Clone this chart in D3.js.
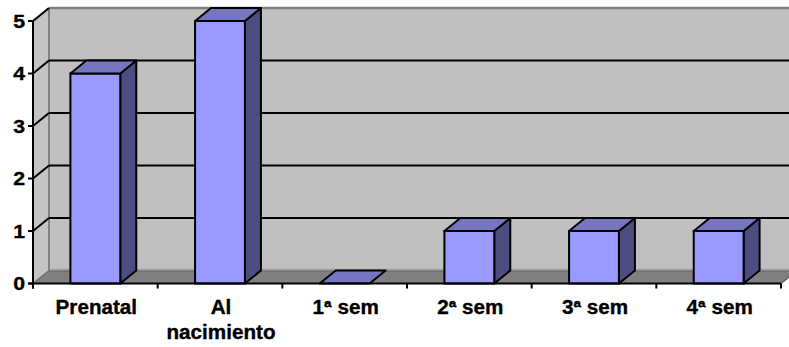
<!DOCTYPE html>
<html><head><meta charset="utf-8">
<script src="https://cdn.jsdelivr.net/npm/d3@7"></script>
<style>html,body{margin:0;padding:0;background:#fff;overflow:hidden}</style>
</head><body>
<svg id="c" width="789" height="347"></svg>
<script>
const categories = ["Prenatal", "Al nacimiento", "1ª sem", "2ª sem", "3ª sem", "4ª sem"];
const values = [4, 5, 0, 1, 1, 1];
const yTicks = [0, 1, 2, 3, 4, 5];

const svg = d3.select("#c");
const X0 = 33, X1 = 781, Y0 = 283.5, Y1 = 21;
const DX = 16, DY = -13;
const y = d3.scaleLinear().domain([0, 5]).range([Y0, Y1]);
const xb = d3.scaleBand().domain(categories).range([X0, X1]).paddingInner(0.6).paddingOuter(0.3);
const xc = d3.scaleBand().domain(categories).range([X0, X1]).padding(0);

const FRONT = "#9999FF", TOP = "#7575C0", SIDE = "#4D4D82";
const pts = a => a.map(p => p.join(",")).join(" ");

// back wall
svg.append("polygon").attr("points", pts([[X0+DX, Y1+DY],[X1+DX+20, Y1+DY],[X1+DX+20, Y0+DY],[X0+DX, Y0+DY]]))
  .attr("fill", "#C0C0C0");
// left wall
svg.append("polygon").attr("points", pts([[X0, Y1],[X0+DX, Y1+DY],[X0+DX, Y0+DY],[X0, Y0]]))
  .attr("fill", "#C4C4C4");
// wall edges
svg.append("line").attr("x1", X0+DX).attr("x2", X1+DX+20).attr("y1", Y1+DY).attr("y2", Y1+DY)
  .attr("stroke", "#808080").attr("stroke-width", 2.5);
svg.append("line").attr("x1", X0+DX).attr("x2", X0+DX).attr("y1", Y1+DY).attr("y2", Y0+DY)
  .attr("stroke", "#808080").attr("stroke-width", 2);
// floor
svg.append("polygon").attr("points", pts([[X0, Y0],[X1, Y0],[X1+DX, Y0+DY],[X0+DX, Y0+DY]]))
  .attr("fill", "#808080");
svg.append("line").attr("x1", X0+DX).attr("x2", X1+DX+20).attr("y1", Y0+DY-1).attr("y2", Y0+DY-1)
  .attr("stroke", "#A0A0A0").attr("stroke-width", 1.5);
svg.append("line").attr("x1", X0+DX).attr("x2", X1+DX+20).attr("y1", Y0+DY+0.5).attr("y2", Y0+DY+0.5)
  .attr("stroke", "#606060").attr("stroke-width", 1);
svg.append("line").attr("x1", X1).attr("y1", Y0).attr("x2", X1+DX).attr("y2", Y0+DY)
  .attr("stroke", "#606060").attr("stroke-width", 1.5);
svg.append("line").attr("x1", X0).attr("y1", Y0).attr("x2", X0+DX).attr("y2", Y0+DY)
  .attr("stroke", "#707070").attr("stroke-width", 1.5);

// gridlines
const grid = yTicks.filter(v => v > 0 && v < 5);
svg.selectAll("line.g").data(grid).join("line").attr("class", "g")
  .attr("x1", X0+DX).attr("x2", X1+DX+20).attr("y1", d => y(d)+DY).attr("y2", d => y(d)+DY)
  .attr("stroke", "#000").attr("stroke-width", 2);
svg.selectAll("line.gd").data(yTicks.filter(v => v > 0)).join("line").attr("class", "gd")
  .attr("x1", X0).attr("x2", X0+DX).attr("y1", d => y(d)).attr("y2", d => y(d)+DY)
  .attr("stroke", "#000").attr("stroke-width", 2);

// bars
const data = categories.map((c, i) => ({c, v: values[i]}));
const g = svg.selectAll("g.bar").data(data).join("g").attr("class", "bar");
const bw = xb.bandwidth();
g.each(function(d) {
  const s = d3.select(this);
  const xl = xb(d.c), xr = xl + bw, yt = y(d.v), yb = y(0);
  if (d.v > 0) {
    s.append("polygon").attr("points", pts([[xr, yt],[xr+DX, yt+DY],[xr+DX, yb+DY],[xr, yb]]))
      .attr("fill", SIDE).attr("stroke", "#000").attr("stroke-width", 2).attr("stroke-linejoin", "round");
    s.append("rect").attr("x", xl).attr("y", yt).attr("width", bw).attr("height", yb - yt)
      .attr("fill", FRONT).attr("stroke", "#000").attr("stroke-width", 2);
  }
  s.append("polygon").attr("points", pts([[xl, yt],[xr, yt],[xr+DX, yt+DY],[xl+DX, yt+DY]]))
    .attr("fill", TOP).attr("stroke", "#000").attr("stroke-width", 2).attr("stroke-linejoin", "round");
});

// axes
svg.append("line").attr("x1", X0).attr("x2", X0).attr("y1", Y1).attr("y2", Y0+5)
  .attr("stroke", "#000").attr("stroke-width", 2);
svg.append("line").attr("x1", X0-5).attr("x2", X1).attr("y1", Y0).attr("y2", Y0)
  .attr("stroke", "#000").attr("stroke-width", 2);
svg.selectAll("line.yt").data(yTicks).join("line").attr("class", "yt")
  .attr("x1", X0-5).attr("x2", X0).attr("y1", d => y(d)).attr("y2", d => y(d))
  .attr("stroke", "#000").attr("stroke-width", 2);
const bounds = categories.map(c => xc(c)).concat([X1]);
svg.selectAll("line.xt").data(bounds).join("line").attr("class", "xt")
  .attr("x1", d => d).attr("x2", d => d).attr("y1", Y0).attr("y2", Y0+5)
  .attr("stroke", "#000").attr("stroke-width", 2);

const font = "'Liberation Sans', Arial, sans-serif";
svg.selectAll("text.yl").data(yTicks).join("text").attr("class", "yl")
  .attr("transform", d => `translate(25,${y(d)+6.8}) scale(1.15,1)`)
  .attr("text-anchor", "end").attr("font-family", font).attr("font-weight", "bold").attr("font-size", 18.5)
  .attr("stroke", "#000").attr("stroke-width", 0.35)
  .text(d => d);

const xl = svg.selectAll("text.xl").data(categories).join("text").attr("class", "xl")
  .attr("transform", d => `translate(${xc(d) + xc.bandwidth()/2 + 1},314) scale(1.06,1)`)
  .attr("text-anchor", "middle").attr("font-family", font).attr("font-weight", "bold").attr("font-size", 19.5)
  .attr("stroke", "#000").attr("stroke-width", 0.35);
xl.each(function(d) {
  const words = d === "Al nacimiento" ? ["Al", "nacimiento"] : [d];
  d3.select(this).selectAll("tspan").data(words).join("tspan")
    .attr("x", 0).attr("dy", (w, i) => i === 0 ? 0 : 25).text(w => w);
});
</script>
</body></html>
